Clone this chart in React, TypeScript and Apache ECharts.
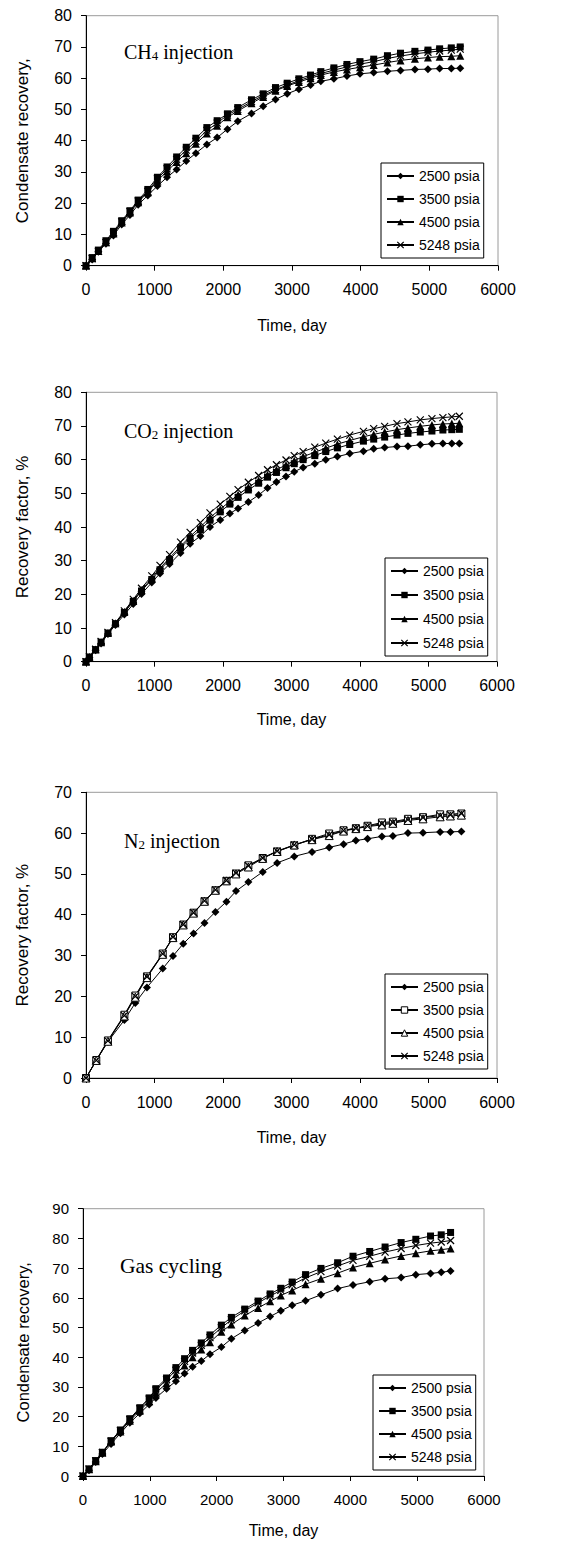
import React, { useEffect, useRef } from "react";
import * as echarts from "echarts";

// ---------- data ----------
const seriesNames = ["2500 psia", "3500 psia", "4500 psia", "5248 psia"];

// CH4 injection
const ch4Time = [0, 90, 180, 290, 400, 520, 640, 760, 900, 1040, 1180, 1320, 1460, 1600, 1760, 1910, 2060, 2210, 2410, 2580, 2760, 2930, 3100, 3270, 3420, 3610, 3800, 3990, 4190, 4390, 4580, 4790, 4980, 5150, 5320, 5450];
const ch4P2500 = [0, 2.0, 4.5, 7.0, 9.7, 13.2, 16.2, 19.5, 22.5, 25.5, 28.3, 30.8, 33.5, 36.0, 38.8, 41.0, 43.7, 46.2, 48.7, 51.0, 53.2, 55.0, 56.5, 57.8, 59.0, 59.8, 60.7, 61.4, 61.8, 62.2, 62.5, 62.8, 62.9, 63.1, 63.1, 63.2];
const ch4P3500 = [0, 2.6, 5.0, 8.0, 11.0, 14.4, 17.6, 21.0, 24.4, 28.3, 31.6, 34.8, 37.9, 40.8, 44.2, 46.4, 48.6, 50.6, 53.1, 55.0, 57.0, 58.4, 59.8, 61.0, 62.1, 63.3, 64.4, 65.3, 66.1, 67.2, 68.0, 68.6, 69.0, 69.4, 69.7, 70.0];
const ch4P4500 = [0, 2.4, 4.7, 7.5, 10.3, 13.8, 17.0, 20.3, 23.5, 27.2, 30.2, 33.2, 36.0, 39.0, 42.3, 44.8, 47.5, 49.5, 52.0, 54.0, 56.0, 57.5, 58.8, 60.0, 61.0, 62.0, 62.8, 63.5, 64.2, 65.0, 65.7, 66.2, 66.6, 66.9, 67.0, 67.2];
const ch4P5248 = [0, 2.3, 4.6, 7.4, 10.4, 14.0, 17.3, 20.7, 23.8, 27.8, 31.0, 34.0, 37.0, 39.8, 43.3, 45.6, 48.2, 50.0, 52.5, 54.5, 56.3, 57.8, 59.2, 60.5, 61.5, 62.6, 63.6, 64.5, 65.3, 66.3, 67.1, 67.8, 68.3, 68.7, 69.0, 69.3];

// CO2 injection
const co2Time = [0, 50, 140, 220, 320, 430, 560, 690, 810, 960, 1080, 1220, 1380, 1520, 1670, 1810, 1960, 2100, 2220, 2370, 2520, 2650, 2780, 2920, 3040, 3170, 3340, 3500, 3670, 3850, 4050, 4200, 4360, 4540, 4700, 4880, 5050, 5210, 5340, 5450];
const co2P2500 = [0, 1.2, 3.4, 5.4, 8.2, 10.9, 14.0, 17.1, 20.1, 23.5, 26.2, 29.0, 32.3, 35.0, 37.3, 40.0, 42.1, 44.0, 45.5, 47.4, 49.5, 51.6, 53.4, 55.0, 56.4, 57.7, 58.8, 60.0, 60.9, 61.8, 62.5, 63.2, 63.6, 63.9, 64.0, 64.4, 64.7, 64.8, 64.8, 64.8];
const co2P3500 = [0, 1.4, 3.6, 5.8, 8.5, 11.3, 14.6, 17.9, 21.0, 24.4, 27.3, 30.3, 33.8, 36.6, 39.2, 42.0, 44.5, 46.8, 48.8, 51.0, 53.0, 54.8, 56.2, 57.6, 58.8, 60.0, 61.2, 62.4, 63.5, 64.5, 65.5, 66.1, 66.7, 67.3, 67.8, 68.2, 68.5, 68.8, 68.9, 69.0];
const co2P4500 = [0, 1.4, 3.6, 5.8, 8.5, 11.4, 14.8, 18.1, 21.3, 24.8, 27.8, 30.8, 34.3, 37.2, 40.0, 42.8, 45.3, 47.6, 49.6, 51.8, 53.8, 55.5, 57.0, 58.4, 59.7, 60.9, 62.2, 63.4, 64.6, 65.7, 66.8, 67.5, 68.2, 68.9, 69.4, 69.9, 70.3, 70.6, 70.7, 70.8];
const co2P5248 = [0, 1.5, 3.7, 6.0, 8.7, 11.6, 15.1, 18.5, 21.8, 25.5, 28.6, 31.8, 35.5, 38.4, 41.3, 44.2, 46.8, 49.1, 51.1, 53.3, 55.3, 57.0, 58.5, 59.9, 61.2, 62.4, 63.7, 64.9, 66.1, 67.3, 68.4, 69.2, 69.9, 70.7, 71.2, 71.8, 72.2, 72.5, 72.7, 72.9];

// N2 injection
const n2Time = [0, 150, 320, 560, 720, 890, 1120, 1270, 1420, 1570, 1730, 1890, 2050, 2190, 2370, 2580, 2790, 3040, 3300, 3550, 3760, 3940, 4110, 4320, 4480, 4700, 4920, 5170, 5320, 5480];
const n2P2500 = [0, 4.3, 8.9, 14.2, 18.4, 22.2, 26.8, 29.9, 32.9, 35.4, 38.0, 40.7, 43.2, 45.8, 48.0, 50.5, 52.7, 54.3, 55.4, 56.5, 57.3, 58.2, 58.6, 59.2, 59.3, 60.0, 60.1, 60.3, 60.3, 60.4];
const n2P3500 = [0, 4.4, 9.2, 15.5, 20.2, 24.9, 30.5, 34.5, 37.6, 40.5, 43.3, 46.0, 48.3, 50.1, 52.1, 53.9, 55.5, 57.0, 58.6, 59.9, 60.7, 61.2, 61.8, 62.6, 62.8, 63.5, 63.9, 64.6, 64.6, 64.8];
const n2P4500 = [0, 4.3, 9.0, 15.2, 19.8, 24.6, 30.3, 34.4, 37.5, 40.4, 43.3, 46.0, 48.3, 50.0, 51.7, 53.8, 55.5, 57.1, 58.4, 59.4, 60.5, 61.1, 61.6, 62.0, 62.4, 63.1, 63.5, 64.0, 64.2, 64.4];
const n2P5248 = [0, 4.3, 9.1, 15.3, 20.0, 24.8, 30.4, 34.5, 37.6, 40.5, 43.4, 46.1, 48.4, 50.2, 52.0, 53.9, 55.6, 57.1, 58.5, 59.6, 60.6, 61.2, 61.7, 62.3, 62.6, 63.3, 63.8, 64.3, 64.5, 64.8];

// Gas cycling
const gcTime = [0, 90, 190, 290, 420, 560, 700, 850, 990, 1090, 1250, 1390, 1520, 1640, 1770, 1900, 2070, 2220, 2420, 2620, 2800, 2960, 3130, 3330, 3560, 3810, 4040, 4290, 4520, 4760, 4980, 5200, 5360, 5500];
const gcP2500 = [0, 1.9, 4.7, 7.4, 10.8, 14.4, 17.9, 21.1, 24.1, 26.3, 29.4, 31.9, 34.5, 36.8, 38.7, 41.0, 43.4, 46.2, 49.0, 51.5, 53.7, 55.6, 57.5, 59.0, 61.0, 63.1, 64.3, 65.4, 66.4, 66.8, 67.8, 68.2, 68.6, 69.0];
const gcP3500 = [0, 2.4, 5.2, 8.0, 11.9, 15.5, 19.3, 23.0, 26.3, 29.4, 33.0, 36.5, 39.5, 42.3, 44.8, 47.5, 50.8, 53.4, 56.2, 58.9, 61.3, 63.2, 65.3, 67.8, 69.9, 71.8, 74.0, 75.6, 77.1, 78.6, 79.7, 80.8, 81.2, 82.0];
const gcP4500 = [0, 2.3, 5.0, 7.8, 11.6, 15.0, 18.6, 22.0, 25.2, 28.0, 31.2, 34.3, 37.2, 40.0, 42.6, 45.0, 48.6, 51.0, 54.0, 56.6, 58.8, 60.8, 62.5, 64.6, 66.4, 68.3, 70.2, 71.6, 72.9, 74.1, 75.0, 75.8, 76.2, 76.6];
const gcP5248 = [0, 2.3, 5.1, 7.9, 11.7, 15.3, 19.0, 22.6, 25.9, 28.9, 32.4, 35.6, 38.6, 41.4, 44.0, 46.6, 49.9, 52.6, 55.6, 58.3, 60.6, 62.5, 64.4, 66.7, 68.8, 70.7, 72.6, 74.0, 75.4, 76.6, 77.6, 78.4, 78.8, 79.3];

const xMin = 0;
const xMax = 6000;
const xStep = 1000;
const yStep = 10;

// ---------- styling helpers ----------
const SANS = "Liberation Sans, Arial, sans-serif";
const SERIF = "Liberation Serif, Times New Roman, serif";
const CROSS = "path://M0,0L10,10M10,0L0,10";

type Sym = { symbol: string; hollow?: boolean; cross?: boolean; size: number };

const filledSyms: Sym[] = [
  { symbol: "diamond", size: 8 },
  { symbol: "rect", size: 7 },
  { symbol: "triangle", size: 8 },
  { symbol: CROSS, cross: true, size: 7 },
];
const hollowSyms: Sym[] = [
  { symbol: "diamond", size: 8 },
  { symbol: "rect", hollow: true, size: 7 },
  { symbol: "triangle", hollow: true, size: 8 },
  { symbol: CROSS, cross: true, size: 7 },
];

function pair(t: number[], v: number[]) {
  return t.map((x, i) => [x, v[i]]);
}

function symStyle(s: Sym) {
  if (s.cross) return { color: "#000", borderColor: "#000", borderWidth: 1.2 };
  if (s.hollow) return { color: "#fff", borderColor: "#000", borderWidth: 1 };
  return { color: "#000", borderColor: "#000", borderWidth: 0 };
}

type PanelCfg = {
  top: number;
  height: number;
  grid: { left: number; top: number; width: number; height: number };
  yMax: number;
  yName: string;
  yNameGap: number;
  yNameSize: number;
  xNameGap: number;
  tickSize: number;
  title: string;
  titleRich: boolean;
  titleSize: number;
  titleLeft: number;
  titleTop: number;
  legendLeft: number;
  legendTop: number;
  legendGap: number;
  time: number[];
  values: number[][];
  syms: Sym[];
};

function buildOption(c: PanelCfg) {
  const series = c.values.map((vals, i) => {
    const s = c.syms[i];
    return {
      type: "line",
      name: seriesNames[i],
      data: pair(c.time, vals),
      symbol: s.symbol,
      symbolSize: s.size,
      showSymbol: true,
      showAllSymbol: true,
      lineStyle: { color: "#000", width: 1 },
      itemStyle: symStyle(s),
      emphasis: { disabled: true },
    };
  });

  const rich = {
    a: { fontFamily: SERIF, fontSize: c.titleSize, fill: "#000", color: "#000" },
    s: { fontFamily: SERIF, fontSize: Math.round(c.titleSize * 0.65), verticalAlign: "bottom", color: "#000" },
  };

  return {
    animation: false,
    backgroundColor: "#fff",
    grid: {
      left: c.grid.left,
      top: c.grid.top,
      width: c.grid.width,
      height: c.grid.height,
      show: true,
      borderColor: "#9a9a9a",
      borderWidth: 1,
      backgroundColor: "transparent",
    },
    xAxis: {
      type: "value",
      min: xMin,
      max: xMax,
      interval: xStep,
      name: "Time, day",
      nameLocation: "middle",
      nameGap: c.xNameGap,
      nameTextStyle: { fontFamily: SANS, fontSize: 16, color: "#000" },
      axisLine: { show: true, lineStyle: { color: "#000", width: 1 } },
      axisTick: { show: true, inside: false, length: 5, lineStyle: { color: "#000" } },
      axisLabel: {
        fontFamily: SANS,
        fontSize: c.tickSize,
        color: "#000",
        margin: 16,
        formatter: (v: number) => String(v),
      },
      splitLine: { show: false },
    },
    yAxis: {
      type: "value",
      min: 0,
      max: c.yMax,
      interval: yStep,
      name: c.yName,
      nameLocation: "middle",
      nameRotate: 90,
      nameGap: c.yNameGap,
      nameTextStyle: { fontFamily: SANS, fontSize: c.yNameSize, color: "#000" },
      axisLine: { show: true, lineStyle: { color: "#000", width: 1 } },
      axisTick: { show: true, inside: false, length: 5, lineStyle: { color: "#000" } },
      axisLabel: {
        fontFamily: SANS,
        fontSize: c.tickSize,
        color: "#000",
        margin: 14,
        formatter: (v: number) => String(v),
      },
      splitLine: { show: false },
    },
    legend: {
      orient: "vertical",
      left: c.legendLeft,
      top: c.legendTop,
      data: seriesNames.map((n, i) => ({ name: n, itemStyle: symStyle(c.syms[i]) })),
      itemWidth: 27,
      itemHeight: 8,
      itemGap: c.legendGap,
      padding: [6, 4, 6, 5],
      borderColor: "#000",
      borderWidth: 1,
      backgroundColor: "#fff",
      selectedMode: false,
      textStyle: { fontFamily: SANS, fontSize: 14, color: "#000" },
    },
    graphic: [
      {
        type: "text",
        left: c.titleLeft,
        top: c.titleTop,
        silent: true,
        style: {
          text: c.title,
          rich: c.titleRich ? rich : undefined,
          font: `${c.titleSize}px ${SERIF}`,
          fill: "#000",
        },
      },
    ],
    series,
  };
}

const panels: PanelCfg[] = [
  {
    top: 0,
    height: 345,
    grid: { left: 86, top: 15.7, width: 412, height: 250 },
    yMax: 80,
    yName: "Condensate recovery,",
    yNameGap: 55,
    yNameSize: 17,
    xNameGap: 52,
    tickSize: 16,
    title: "{a|CH}{s|4}{a| injection}",
    titleRich: true,
    titleSize: 20,
    titleLeft: 124,
    titleTop: 42,
    legendLeft: 381,
    legendTop: 163,
    legendGap: 9,
    time: ch4Time,
    values: [ch4P2500, ch4P3500, ch4P4500, ch4P5248],
    syms: filledSyms,
  },
  {
    top: 345,
    height: 400,
    grid: { left: 86, top: 47.3, width: 411, height: 269.4 },
    yMax: 80,
    yName: "Recovery factor, %",
    yNameGap: 55,
    yNameSize: 17,
    xNameGap: 50,
    tickSize: 16,
    title: "{a|CO}{s|2}{a| injection}",
    titleRich: true,
    titleSize: 20,
    titleLeft: 124,
    titleTop: 76,
    legendLeft: 385,
    legendTop: 213,
    legendGap: 10,
    time: co2Time,
    values: [co2P2500, co2P3500, co2P4500, co2P5248],
    syms: filledSyms,
  },
  {
    top: 745,
    height: 405,
    grid: { left: 86, top: 47.3, width: 411, height: 287 },
    yMax: 70,
    yName: "Recovery factor, %",
    yNameGap: 55,
    yNameSize: 17,
    xNameGap: 51,
    tickSize: 16,
    title: "{a|N}{s|2}{a| injection}",
    titleRich: true,
    titleSize: 20,
    titleLeft: 124,
    titleTop: 86,
    legendLeft: 385,
    legendTop: 229,
    legendGap: 9,
    time: n2Time,
    values: [n2P2500, n2P3500, n2P4500, n2P5248],
    syms: hollowSyms,
  },
  {
    top: 1150,
    height: 393,
    grid: { left: 83, top: 58.7, width: 401, height: 270.3 },
    yMax: 90,
    yName: "Condensate recovery,",
    yNameGap: 52,
    yNameSize: 16.5,
    xNameGap: 46,
    tickSize: 15,
    title: "Gas cycling",
    titleRich: false,
    titleSize: 21.5,
    titleLeft: 120,
    titleTop: 105,
    legendLeft: 373,
    legendTop: 225,
    legendGap: 9,
    time: gcTime,
    values: [gcP2500, gcP3500, gcP4500, gcP5248],
    syms: filledSyms,
  },
];

function Panel({ cfg }: { cfg: PanelCfg }) {
  const ref = useRef<HTMLDivElement>(null);
  useEffect(() => {
    if (!ref.current) return;
    const chart = echarts.init(ref.current, null, { renderer: "svg" });
    chart.setOption(buildOption(cfg) as any);
    return () => chart.dispose();
  }, [cfg]);
  return (
    <div
      ref={ref}
      style={{ position: "absolute", left: 0, top: cfg.top, width: 582, height: cfg.height }}
    />
  );
}

export default function App() {
  return (
    <div style={{ position: "absolute", left: 0, top: 0, width: 582, height: 1543, background: "#fff" }}>
      {panels.map((p, i) => (
        <Panel key={i} cfg={p} />
      ))}
    </div>
  );
}
